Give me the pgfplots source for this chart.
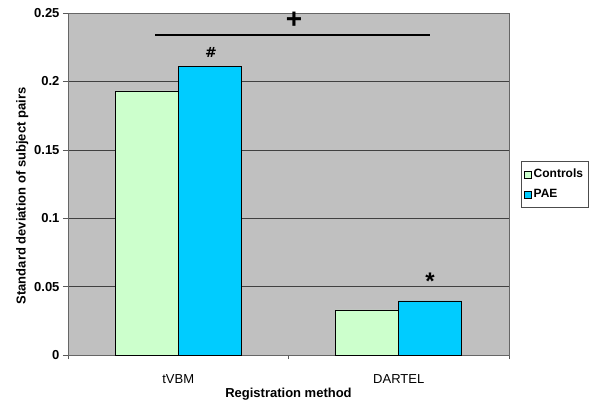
\documentclass[border=0pt]{standalone}
\usepackage{fontspec}
\setmainfont{Liberation Sans}
\newfontfamily\djv{DejaVu Sans}
\usepackage{pgfplots}
\pgfplotsset{compat=1.18}
\definecolor{plotgray}{HTML}{C0C0C0}
\definecolor{ctrl}{HTML}{CCFFCC}
\definecolor{pae}{HTML}{00CCFF}
\begin{document}
\begin{tikzpicture}
\begin{axis}[
  scale only axis,
  width=441pt, height=342pt,
  xmin=0, xmax=2, ymin=0, ymax=0.25,
  axis background/.style={fill=plotgray},
  axis line style={draw=gray!80!black, line width=0.8pt},
  ytick={0,0.05,0.1,0.15,0.2,0.25},
  yticklabels={0,0.05,0.1,0.15,0.2,0.25},
  ymajorgrids, grid style={black!75, line width=0.6pt},
  ytick style={draw=gray!70!black, line width=0.6pt},
  major tick length=5pt,
  tick align=outside,
  xtick pos=bottom, ytick pos=left,
  xtick={0.5,1.5},
  xticklabels={tVBM,DARTEL},
  xtick style={draw=none},
  minor xtick={0,1,2},
  minor x tick style={draw=gray!70!black},
  minor tick length=4pt,
  yticklabel style={font=\fontsize{13}{15}\selectfont\bfseries},
  xticklabel style={font=\fontsize{13}{15}\selectfont, yshift=-11pt},
  /pgf/number format/assume math mode=true,
  xlabel={Registration method},
  ylabel={Standard deviation of subject pairs},
  xlabel style={font=\fontsize{13}{15}\selectfont\bfseries, yshift=2pt},
  every axis y label/.append style={at={(ticklabel cs:0.465)}},
  ylabel style={font=\fontsize{13}{15}\selectfont\bfseries, yshift=-1pt},
  ybar, bar width=63pt,
  legend style={at={(1.027,0.567)}, anchor=north west, draw=black!70,
     font=\fontsize{12}{14}\selectfont\bfseries, fill=white,
     row sep=6pt, inner xsep=3pt, inner ysep=6pt},
  legend cell align=left,
  legend image code/.code={\draw[#1, line width=0.6pt] (0pt,-3.5pt) rectangle (7pt,3.5pt);},
  clip=false,
]
\addplot[fill=ctrl, draw=black, line width=0.8pt, bar shift=-31.5pt] coordinates {(0.5,0.193) (1.5,0.0329)};
\addplot[fill=pae, draw=black, line width=0.8pt, bar shift=31.5pt] coordinates {(0.5,0.211) (1.5,0.0395)};
\legend{Controls,PAE}
\draw[black, line width=1.8pt] (axis cs:0.395,0.234) -- (axis cs:1.642,0.234);
\node[font=\fontsize{28}{30}\selectfont\bfseries] at (axis cs:1.025,0.2445) {+};
\node[font=\djv\fontsize{14}{16}\selectfont\bfseries] at (axis cs:0.649,0.2215) {\#};
\node[font=\fontsize{24}{26}\selectfont\bfseries] at (axis cs:1.642,0.054) {*};
\coordinate (o) at (rel axis cs:0,0);
\end{axis}
\path[use as bounding box] (o) ++(-68pt,-55pt) rectangle ++(590pt,410pt);
\end{tikzpicture}
\end{document}
